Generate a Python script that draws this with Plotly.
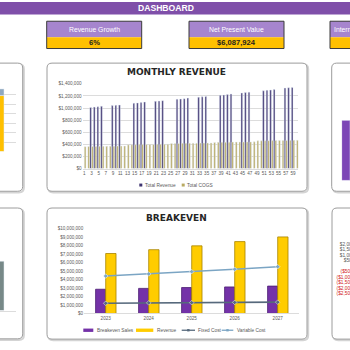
import plotly.graph_objects as go

W = H = 350
def X(p): return p / W
def Y(p): return 1 - p / H

# ---------------- data ----------------
months = list(range(1, 61))
month_ticks = list(range(1, 60, 2))
total_revenue = [None, None, 1010000, 1015000, 1022000, 1030000, None, None, 1040000, 1045000,
                 1050000, None, None, None, 1080000, 1085000, 1090000, 1100000, None, None,
                 1110000, 1115000, 1122000, None, None, None, 1145000, 1150000, 1155000, 1165000,
                 None, None, 1180000, 1185000, 1192000, None, None, None, 1212000, 1217000,
                 1222000, 1232000, None, None, 1250000, 1256000, 1262000, None, None, None,
                 1285000, 1292000, 1298000, 1305000, None, None, 1330000, 1336000, 1340000, None]
total_cogs = [362000, 364000, 365000, 366000, 367000, 368000, 368000, 369000, 370000, 371000, 372000, 373000,
              392000, 394000, 395000, 396000, 397000, 398000, 398000, 399000, 400000, 401000, 402000, 403000,
              414000, 415000, 416000, 417000, 418000, 419000, 419000, 420000, 421000, 422000, 423000, 424000,
              432000, 433000, 434000, 435000, 436000, 437000, 437000, 438000, 439000, 440000, 441000, 442000,
              458000, 459000, 460000, 461000, 462000, 463000, 463000, 464000, 465000, 466000, 467000, 468000]
revenue_ticks = [0, 200000, 400000, 600000, 800000, 1000000, 1200000, 1400000]

years = ["2023", "2024", "2025", "2026", "2027"]
breakeven_sales = [2850000, 2950000, 3050000, 3120000, 3220000]
breakeven_revenue = [7050000, 7500000, 7950000, 8450000, 9000000]
fixed_cost = [1200000, 1250000, 1270000, 1300000, 1330000]
variable_cost = [4400000, 4650000, 4920000, 5200000, 5500000]
breakeven_ticks = [0, 1000000, 2000000, 3000000, 4000000, 5000000, 6000000, 7000000, 8000000, 9000000, 10000000]

left_top_labels = ["Other"]
left_top_main = [5.9]
left_top_extra = [0.7]
left_bottom_labels = ["Other"]
left_bottom_values = [5.0]
right_top_values = [1.0]
right_bottom_ticks = [2000000, 1500000, 1000000, 500000, -500000, -1000000, -1500000, -2000000, -2500000]

kpi_labels = ["Revenue Growth", "Net Present Value", "Internal Rate of Return"]
kpi_values = ["6%", "$6,087,924", ""]

# ---------------- styles ----------------
PURPLE_HDR = "#7F4FA9"
LAVENDER = "#A685CE"
GOLD = "#FFC000"
REV_C = "#3F3470"
COGS_C = "#B9AA62"
BE_PURPLE = "#7432A8"
BE_GOLD = "#FFCC00"
FIX_C = "#56697C"
VAR_C = "#7BA5C4"
TICK = dict(family="Liberation Sans", size=4.6, color="#595959")
GRID = "#DCDCDC"

fig = go.Figure()

# Monthly revenue
fig.add_trace(go.Bar(x=months, y=total_revenue, width=0.46, offset=-0.46, marker_color=REV_C,
                     name="Total Revenue", xaxis="x", yaxis="y"))
fig.add_trace(go.Bar(x=months, y=total_cogs, width=0.46, offset=0.0, marker_color=COGS_C,
                     name="Total COGS", xaxis="x", yaxis="y"))

# Breakeven
fig.add_trace(go.Bar(x=years, y=breakeven_sales, width=0.23, offset=-0.235,
                     marker=dict(color=BE_PURPLE, line=dict(color="#4A1C72", width=0.8)),
                     name="Breakeven Sales", xaxis="x2", yaxis="y2"))
fig.add_trace(go.Bar(x=years, y=breakeven_revenue, width=0.24, offset=0.0,
                     marker=dict(color=BE_GOLD, line=dict(color="#A88400", width=0.8)),
                     name="Revenue", xaxis="x2", yaxis="y2"))
fig.add_trace(go.Scatter(x=years, y=fixed_cost, mode="lines+markers", name="Fixed Cost",
                         line=dict(color=FIX_C, width=1.6),
                         marker=dict(symbol="diamond", size=3.5, color=FIX_C, line=dict(color="white", width=0.5)),
                         xaxis="x2", yaxis="y2"))
fig.add_trace(go.Scatter(x=years, y=variable_cost, mode="lines+markers", name="Variable Cost",
                         line=dict(color=VAR_C, width=1.4),
                         marker=dict(symbol="diamond", size=3.5, color=VAR_C, line=dict(color="white", width=0.5)),
                         xaxis="x2", yaxis="y2"))

# Partial left-top (stacked)
fig.add_trace(go.Bar(x=[0], y=left_top_main, width=2, marker_color=GOLD, xaxis="x3", yaxis="y3"))
fig.add_trace(go.Bar(x=[0], y=left_top_extra, base=left_top_main, width=2, marker_color="#8FA8BF",
                     xaxis="x3", yaxis="y3"))
# Partial left-bottom
fig.add_trace(go.Bar(x=[0], y=left_bottom_values, width=2, marker_color="#778988", xaxis="x4", yaxis="y4"))
# Partial right-top
fig.add_trace(go.Bar(x=[0.5], y=right_top_values, width=1, marker_color="#7C46B6", xaxis="x5", yaxis="y5"))
# Partial right-bottom (axis only)
fig.add_trace(go.Scatter(x=[], y=[], xaxis="x6", yaxis="y6", hoverinfo="skip"))

# ---------------- shapes ----------------
def rpath(x0, y0, x1, y1, r=5):
    return (f"M{X(x0+r)},{Y(y0)} L{X(x1-r)},{Y(y0)} Q{X(x1)},{Y(y0)} {X(x1)},{Y(y0+r)} "
            f"L{X(x1)},{Y(y1-r)} Q{X(x1)},{Y(y1)} {X(x1-r)},{Y(y1)} L{X(x0+r)},{Y(y1)} "
            f"Q{X(x0)},{Y(y1)} {X(x0)},{Y(y1-r)} L{X(x0)},{Y(y0+r)} Q{X(x0)},{Y(y0)} {X(x0+r)},{Y(y0)} Z")

shapes = []
panels = [(-10, 62, 22.7, 192), (47, 62, 307, 192), (331.7, 62, 370, 192),
          (-10, 209, 22.7, 341.7), (47, 209, 307, 342), (332, 209, 370, 342)]
for (a, b, c, d) in panels:
    shapes.append(dict(type="path", path=rpath(a + 1.2, b + 1.2, c + 1.2, d + 1.2), xref="paper", yref="paper",
                       line=dict(color="#D4D4D4", width=2), layer="below"))
for (a, b, c, d) in panels:
    shapes.append(dict(type="path", path=rpath(a, b, c, d), xref="paper", yref="paper",
                       line=dict(color="#9C9C9C", width=1), fillcolor="white", layer="below"))

# header
shapes.append(dict(type="rect", xref="paper", yref="paper", x0=0, x1=1, y0=Y(12.7), y1=1,
                   fillcolor=PURPLE_HDR, line=dict(width=0), layer="below"))
# KPI boxes
kpi_x = [(46.7, 141.7), (189, 284), (330, 425)]
for (a, b) in kpi_x:
    shapes.append(dict(type="rect", xref="paper", yref="paper", x0=X(a), x1=X(b), y0=Y(35.8), y1=Y(19.5),
                       fillcolor=LAVENDER, line=dict(width=0)))
    shapes.append(dict(type="rect", xref="paper", yref="paper", x0=X(a), x1=X(b), y0=Y(47.2), y1=Y(35.8),
                       fillcolor=GOLD, line=dict(width=0)))
    shapes.append(dict(type="rect", xref="paper", yref="paper", x0=X(a), x1=X(b), y0=Y(47.2), y1=Y(19.5),
                       line=dict(color="#3A3A3A", width=1)))

# manual legends
def sw(x0, x1, y0, y1, color):
    shapes.append(dict(type="rect", xref="paper", yref="paper", x0=X(x0), x1=X(x1), y0=Y(y1), y1=Y(y0),
                       fillcolor=color, line=dict(width=0)))
sw(139.3, 142.3, 184.2, 187.2, REV_C)
sw(181.7, 184.7, 184.2, 187.2, COGS_C)
sw(83.3, 93.3, 331.3, 334.7, BE_PURPLE)
sw(136, 153.3, 331.3, 334.7, BE_GOLD)
for (a, b, col) in [(181.7, 195, FIX_C), (221.7, 233.3, VAR_C)]:
    shapes.append(dict(type="line", xref="paper", yref="paper", x0=X(a), x1=X(b), y0=Y(333), y1=Y(333),
                       line=dict(color=col, width=1.3)))
    m = (a + b) / 2
    shapes.append(dict(type="rect", xref="paper", yref="paper", x0=X(m - 1.2), x1=X(m + 1.2),
                       y0=Y(334.2), y1=Y(331.8), fillcolor=col, line=dict(width=0)))

# ---------------- annotations ----------------
ann = []
def txt(x, y, s, size, color, family="Liberation Sans", bold=False, xanchor="center"):
    ann.append(dict(x=X(x), y=Y(y), xref="paper", yref="paper", text=(f"<b>{s}</b>" if bold else s),
                    showarrow=False, xanchor=xanchor, yanchor="middle",
                    font=dict(size=size, color=color, family=family)))

txt(165.7, 6.3, "DASHBOARD", 8.6, "white", bold=True)
centers = [94.2, 236.5]
for i, c in enumerate(centers):
    txt(c, 28, kpi_labels[i], 6.8, "white")
    txt(c, 41.5, kpi_values[i], 7.6, "#1F1F1F", bold=True)
txt(331.5, 28, kpi_labels[2], 6.8, "white", xanchor="left")

txt(177, 71.5, "MONTHLY REVENUE", 9, "#262626", family="DejaVu Sans", bold=True)
txt(176, 219.5, "BREAKEVEN", 9, "#262626", family="DejaVu Sans", bold=True)

txt(142.8, 185.7, "Total Revenue", 4.8, "#595959", xanchor="left")
txt(185.2, 185.7, "Total COGS", 4.8, "#595959", xanchor="left")
txt(94.5, 333, "Breakeven Sales", 4.8, "#595959", xanchor="left")
txt(155, 333, "Revenue", 4.8, "#595959", xanchor="left")
txt(196, 333, "Fixed Cost", 4.8, "#595959", xanchor="left")
txt(234.5, 333, "Variable Cost", 4.8, "#595959", xanchor="left")

# ---------------- layout ----------------
rb_text = [(f"${v:,.0f}" if v > 0 else f"<span style='color:#D02020'>(${-v:,.0f})</span>")
           for v in right_bottom_ticks]

fig.update_layout(
    width=W, height=H, margin=dict(l=0, r=0, t=0, b=0),
    paper_bgcolor="white", plot_bgcolor="rgba(0,0,0,0)",
    showlegend=False, barmode="overlay",
    shapes=shapes, annotations=ann,
    xaxis=dict(domain=[X(82.5), X(298.4)], anchor="y", range=[0.5, 60.5], tickvals=month_ticks,
               ticktext=[str(m) for m in month_ticks], tickangle=0, tickfont=TICK, showgrid=False,
               showline=True, linecolor=GRID, linewidth=0.8, ticks="", zeroline=False),
    yaxis=dict(domain=[Y(169), Y(83)], anchor="x", range=[0, 1400000], tickvals=revenue_ticks,
               tickformat="$,.0f", tickfont=TICK, showgrid=True, gridcolor=GRID, gridwidth=0.6,
               zeroline=False, ticks=""),
    xaxis2=dict(domain=[X(84.2), X(299.2)], anchor="y2", type="category", tickfont=TICK, showgrid=False,
                showline=True, linecolor=GRID, linewidth=0.8, ticks="", zeroline=False),
    yaxis2=dict(domain=[Y(316), Y(229.7)], anchor="x2", range=[0, 10000000], tickvals=breakeven_ticks,
                tickformat="$,.0f", tickfont=TICK, showgrid=False, zeroline=False, ticks=""),
    xaxis3=dict(domain=[0, X(16)], anchor="y3", range=[0, 4], tickvals=[0], ticktext=left_top_labels,
                tickfont=TICK, showgrid=False, zeroline=False, ticks="", showline=False),
    yaxis3=dict(domain=[Y(151.7), Y(84.3)], anchor="x3", range=[0, 7], dtick=1, showticklabels=False,
                showgrid=True, gridcolor=GRID, gridwidth=0.6, zeroline=False, ticks=""),
    xaxis4=dict(domain=[0, X(16)], anchor="y4", range=[0, 4], tickvals=[0], ticktext=left_bottom_labels,
                tickfont=TICK, showgrid=False, zeroline=False, ticks="", showline=True, linecolor=GRID,
                linewidth=0.8),
    yaxis4=dict(domain=[Y(313), Y(253)], anchor="x4", range=[0, 6], showticklabels=False,
                showgrid=False, zeroline=False, ticks=""),
    xaxis5=dict(domain=[X(341.7), 1], anchor="y5", range=[0, 1], visible=False),
    yaxis5=dict(domain=[Y(181), Y(120)], anchor="x5", range=[0, 1], visible=False),
    xaxis6=dict(domain=[0.985, 1], anchor="y6", range=[0, 1], visible=False),
    yaxis6=dict(domain=[Y(295.7), Y(245.7)], anchor="x6", range=[-2500000, 2000000],
                tickvals=right_bottom_ticks, ticktext=rb_text,
                tickfont=dict(family="Liberation Sans", size=4.8, color="#595959"),
                showgrid=False, zeroline=False, ticks="", showline=False, ticklabelstandoff=-20),
)

fig.write_html("out.html")
